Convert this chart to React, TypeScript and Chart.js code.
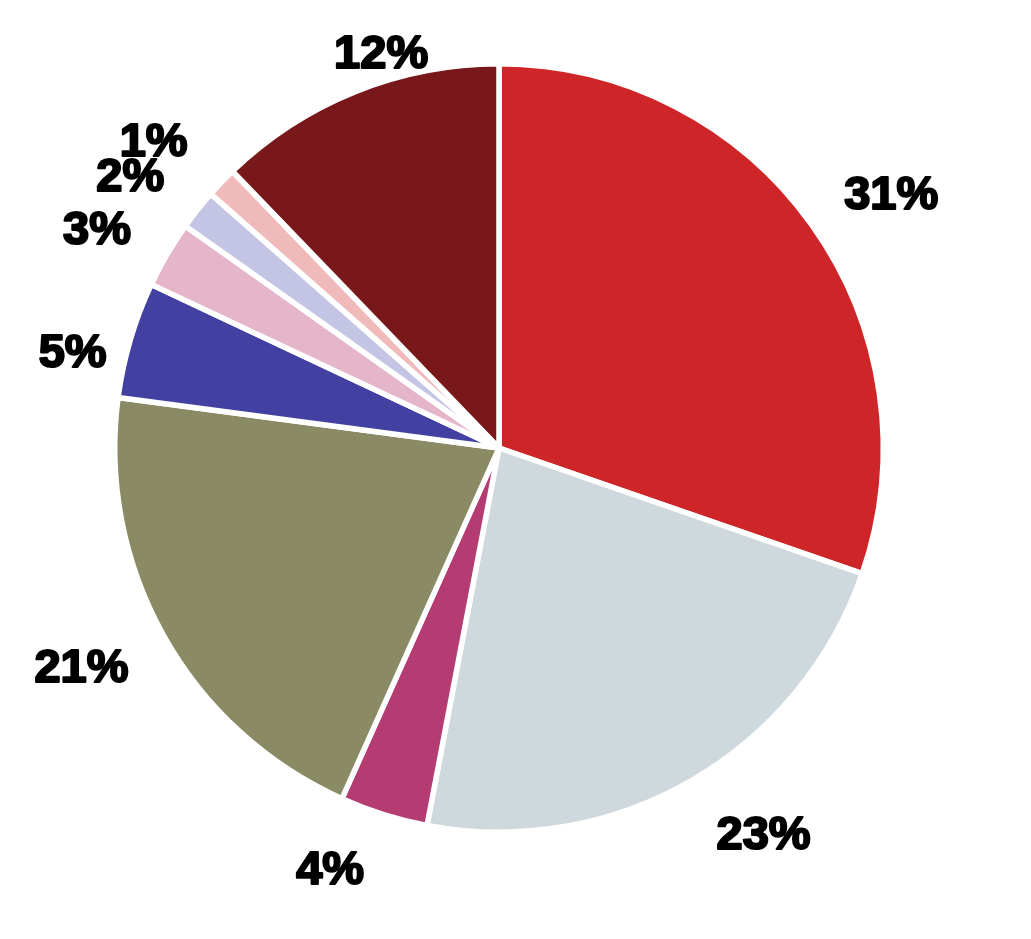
import React, { useEffect, useRef } from "react";
import { Chart, registerables } from "chart.js";

Chart.register(...registerables);

// Slice shares (clockwise from 12 o'clock)
const categories = ["A", "B", "C", "D", "E", "F", "G", "H", "I"];
const values = [30.3, 22.7, 3.7, 20.4, 4.9, 2.8, 1.7, 1.3, 12.2];
const valueLabels = ["31%", "23%", "4%", "21%", "5%", "3%", "2%", "1%", "12%"];
const colors = [
  "#CE2628",
  "#CFD9DD",
  "#B43C72",
  "#8A8B65",
  "#4240A0",
  "#E5B5CA",
  "#C4C4E5",
  "#F0BABA",
  "#78181A",
];

// label placement tweaks (px beyond the rim, degrees of rotation)
const labelGap = [87, 85, 70, 89, 56, 77, 78, 82, 32];
const labelTurn = [2.3, -4.5, 4.5, 1.7, -3.4, -1.5, -1.7, -1.9, 5.4];

const BORDER = 5.5;
const FONT_SIZE = 47;

const outsideLabels = {
  id: "outsideLabels",
  afterDatasetsDraw(chart: any) {
    const ctx = chart.ctx;
    const meta = chart.getDatasetMeta(0);
    ctx.save();
    ctx.font = `bold ${FONT_SIZE}px "Liberation Sans", Arial, sans-serif`;
    ctx.fillStyle = "#000";
    ctx.strokeStyle = "#000";
    ctx.lineWidth = 2.2;
    ctx.lineJoin = "round";
    ctx.textAlign = "center";
    ctx.textBaseline = "alphabetic";
    meta.data.forEach((arc: any, i: number) => {
      const mid = (arc.startAngle + arc.endAngle) / 2 + (labelTurn[i] * Math.PI) / 180;
      const r = arc.outerRadius - BORDER / 2 + labelGap[i];
      const x = arc.x + Math.cos(mid) * r;
      const y = arc.y + Math.sin(mid) * r + FONT_SIZE * 0.358;
      ctx.strokeText(valueLabels[i], x, y);
      ctx.fillText(valueLabels[i], x, y);
    });
    ctx.restore();
  },
};

export default function App() {
  const ref = useRef<HTMLCanvasElement>(null);

  useEffect(() => {
    const canvas = ref.current;
    if (!canvas) return;
    const chart = new Chart(canvas, {
      type: "pie",
      data: {
        labels: categories,
        datasets: [
          {
            data: values,
            backgroundColor: colors,
            borderColor: "#FFFFFF",
            borderWidth: BORDER,
          },
        ],
      },
      options: {
        responsive: false,
        animation: false,
        events: [],
        layout: { padding: { left: 112, top: 61, right: 145, bottom: 104 } },
        plugins: {
          legend: { display: false },
          tooltip: { enabled: false },
        },
      },
      plugins: [outsideLabels],
    });
    return () => chart.destroy();
  }, []);

  return (
    <div style={{ position: "fixed", left: 0, top: 0, width: 1031, height: 939, background: "#fff" }}>
      <canvas ref={ref} width={1031} height={939} style={{ display: "block" }} />
    </div>
  );
}
